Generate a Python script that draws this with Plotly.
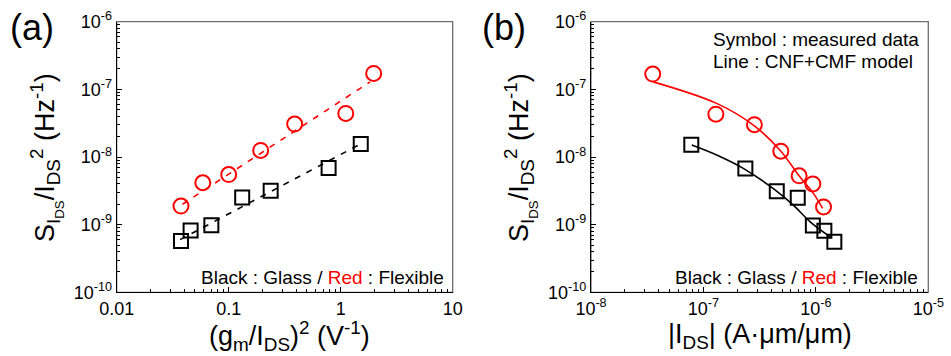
import plotly.graph_objects as go

# ---------------- data ----------------
# Panel (a): noise vs (gm/IDS)^2
a_black_x = [0.0375, 0.0457, 0.070, 0.132, 0.237, 0.78, 1.51]
a_black_y = [5.75e-10, 8.2e-10, 9.8e-10, 2.52e-9, 3.16e-9, 6.9e-9, 1.55e-8]
a_red_x = [0.0375, 0.0587, 0.100, 0.193, 0.388, 1.11, 1.97]
a_red_y = [1.88e-9, 4.16e-9, 5.5e-9, 1.25e-8, 3.07e-8, 4.4e-8, 1.72e-7]
# dashed guide lines (endpoints)
a_black_fit_x = [0.0368, 1.44]
a_black_fit_y = [6.0e-10, 1.5e-8]
a_red_fit_x = [0.0387, 1.83]
a_red_fit_y = [2.0e-9, 1.29e-7]

# Panel (b): noise vs |IDS|
b_black_x = [7.8e-8, 2.36e-7, 4.49e-7, 6.9e-7, 9.4e-7, 1.19e-6, 1.46e-6]
b_black_y = [1.52e-8, 6.77e-9, 3.13e-9, 2.49e-9, 9.7e-10, 8.1e-10, 5.6e-10]
b_red_x = [3.54e-8, 1.29e-7, 2.84e-7, 4.88e-7, 7.1e-7, 9.4e-7, 1.17e-6]
b_red_y = [1.68e-7, 4.3e-8, 3.0e-8, 1.22e-8, 5.27e-9, 4.0e-9, 1.83e-9]
# CNF+CMF model curves
b_black_model_x = [7.87e-8, 1.31e-7, 2.26e-7, 4.19e-7, 6.3e-7, 8.9e-7, 1.34e-6]
b_black_model_y = [1.5e-8, 1.07e-8, 6.8e-9, 3.4e-9, 1.94e-9, 1.1e-9, 6.6e-10]
b_red_model_x = [3.58e-8, 1.31e-7, 2.78e-7, 4.8e-7, 7.2e-7, 9.5e-7, 1.15e-6]
b_red_model_y = [1.29e-7, 6.2e-8, 2.96e-8, 1.26e-8, 5.1e-9, 2.9e-9, 1.74e-9]

# tick labels
y_tickvals = [1e-10, 1e-9, 1e-8, 1e-7, 1e-6]
y_ticktext = ["10<sup>-10</sup>", "10<sup>-9</sup>", "10<sup>-8</sup>", "10<sup>-7</sup>", "10<sup>-6</sup>"]
a_x_tickvals = [0.01, 0.1, 1, 10]
a_x_ticktext = ["0.01", "0.1", "1", "10"]
b_x_tickvals = [1e-8, 1e-7, 1e-6, 1e-5]
b_x_ticktext = ["10<sup>-8</sup>", "10<sup>-7</sup>", "10<sup>-6</sup>", "10<sup>-5</sup>"]

RED = "#ff0000"
BLACK = "#000000"
FRAME = "#707070"
FONT = "Liberation Sans, Arial, sans-serif"

W, H = 951, 356
def px(x):
    return x / W
def py(y):
    return 1 - y / H

def minor_vals(decades):
    return [m * d for d in decades[:-1] for m in range(2, 10)]

fig = go.Figure()

circ = dict(symbol="circle-open", size=15, line=dict(width=2, color=RED), color=RED)
sq = dict(symbol="square-open", size=14, line=dict(width=2, color=BLACK), color=BLACK)

# panel (a)
fig.add_trace(go.Scatter(x=a_black_fit_x, y=a_black_fit_y, mode="lines",
                         line=dict(color=BLACK, width=1.6, dash="6px,7px"), xaxis="x", yaxis="y"))
fig.add_trace(go.Scatter(x=a_red_fit_x, y=a_red_fit_y, mode="lines",
                         line=dict(color=RED, width=1.6, dash="6px,7px"), xaxis="x", yaxis="y"))
fig.add_trace(go.Scatter(x=a_black_x, y=a_black_y, mode="markers", marker=sq, xaxis="x", yaxis="y"))
fig.add_trace(go.Scatter(x=a_red_x, y=a_red_y, mode="markers", marker=circ, xaxis="x", yaxis="y"))

# panel (b)
fig.add_trace(go.Scatter(x=b_black_model_x, y=b_black_model_y, mode="lines", line_shape="spline",
                         line=dict(color=BLACK, width=1.6), xaxis="x2", yaxis="y2"))
fig.add_trace(go.Scatter(x=b_red_model_x, y=b_red_model_y, mode="lines", line_shape="spline",
                         line=dict(color=RED, width=1.6), xaxis="x2", yaxis="y2"))
fig.add_trace(go.Scatter(x=b_black_x, y=b_black_y, mode="markers", marker=sq, xaxis="x2", yaxis="y2"))
fig.add_trace(go.Scatter(x=b_red_x, y=b_red_y, mode="markers", marker=circ, xaxis="x2", yaxis="y2"))

ydom = [py(292.3), py(21.7)]

def axis(tickvals, ticktext, rng, domain, anchor):
    return dict(type="log", showgrid=False, zeroline=False, automargin=False,
                ticks="inside", ticklen=5, tickwidth=1, tickcolor=BLACK,
                showline=True, linecolor=BLACK, linewidth=1.3, mirror=False,
                tickfont=dict(family=FONT, size=18, color=BLACK),
                tickvals=tickvals, ticktext=ticktext, range=rng, domain=domain, anchor=anchor,
                minor=dict(ticks="inside", ticklen=3, tickwidth=1, tickcolor=BLACK, showgrid=False,
                           tickvals=minor_vals(tickvals)))

fig.update_layout(
    template="none",
    width=W, height=H, margin=dict(l=0, r=0, t=0, b=0, pad=0, autoexpand=False),
    paper_bgcolor="white", plot_bgcolor="white", showlegend=False,
    font=dict(family=FONT, color=BLACK),
    xaxis=axis(a_x_tickvals, a_x_ticktext, [-2, 1], [px(116.7), px(452.7)], "y"),
    yaxis=axis(y_tickvals, y_ticktext, [-10, -6], ydom, "x"),
    xaxis2=axis(b_x_tickvals, b_x_ticktext, [-8, -5], [px(591), px(928.3)], "y2"),
    yaxis2=axis(y_tickvals, y_ticktext, [-10, -6], ydom, "x2"),
)

# gray frame (top/right edges) for each panel
for xr, yr in (("x domain", "y domain"), ("x2 domain", "y2 domain")):
    fig.add_shape(type="rect", xref=xr, yref=yr, x0=0, x1=1, y0=0, y1=1,
                  line=dict(color=FRAME, width=1.3), layer="below")

ytitle = "S<sub>I<sub>DS</sub></sub>/I<sub>DS</sub><sup>2</sup> (Hz<sup>-1</sup>)"

def note(x, y, text, size, xanchor="center", angle=0):
    return dict(x=px(x), y=py(y), xref="paper", yref="paper", text=text, showarrow=False,
                xanchor=xanchor, yanchor="middle", textangle=angle,
                font=dict(size=size, family=FONT, color=BLACK))

legtxt = "Black : Glass / <span style='color:#ff0000'>Red</span> : Flexible"
ann = [
    note(8, 28, "(a)", 36, "left"),
    note(480, 28, "(b)", 36, "left"),
    note(46, 158, ytitle, 27, angle=-90),
    note(520, 158, ytitle, 27, angle=-90),
    note(289, 336, "(g<sub>m</sub>/I<sub>DS</sub>)<sup>2</sup> (V<sup>-1</sup>)", 27),
    note(759.7, 336, "|I<sub>DS</sub>| (A·μm/μm)", 27),
    note(446, 277, legtxt, 19, "right"),
    note(920, 277, legtxt, 19, "right"),
    note(711, 39, "Symbol : measured data", 19, "left"),
    note(711, 62, "Line : CNF+CMF model", 19, "left"),
]
fig.update_layout(annotations=ann)

fig.write_html("out.html", config={"displayModeBar": False},
               post_script="document.body.style.margin='0';document.body.style.padding='0';")
